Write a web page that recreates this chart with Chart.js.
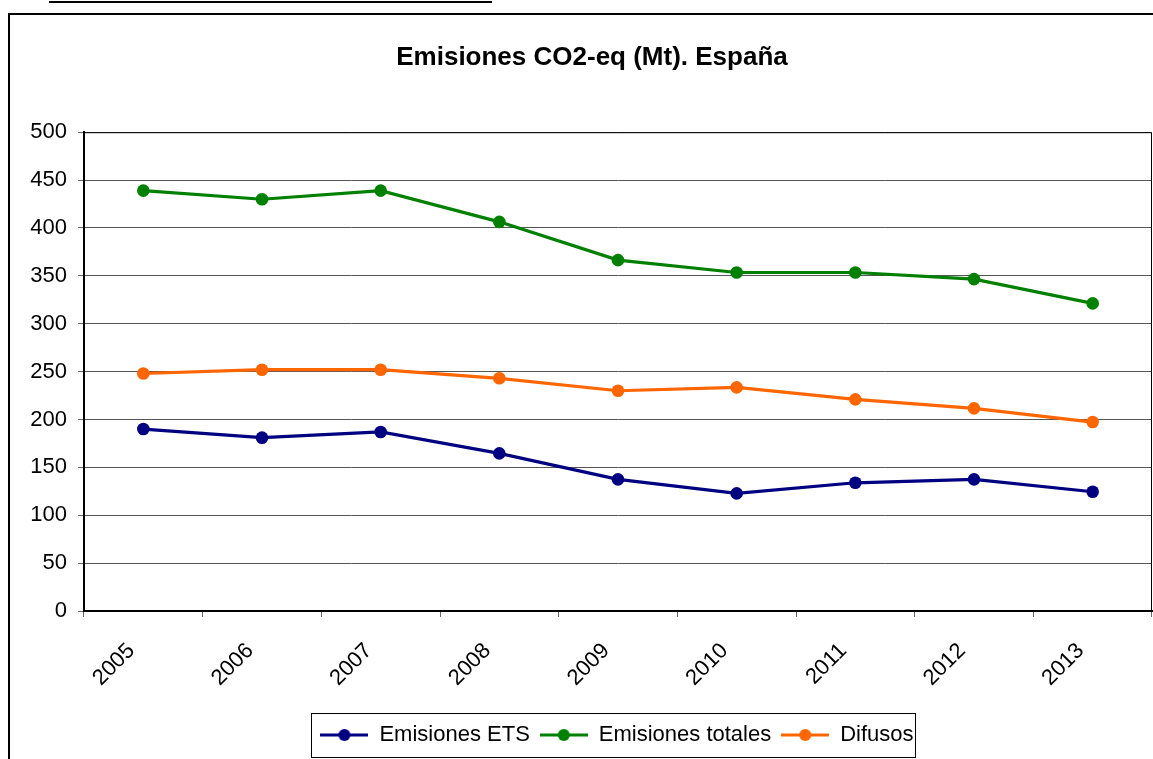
<!DOCTYPE html>
<html>
<head>
<meta charset="utf-8">
<title>Emisiones CO2-eq (Mt). España</title>
<script src="https://cdn.jsdelivr.net/npm/chart.js@4.4.1/dist/chart.umd.min.js"></script>
<style>
  html, body { margin: 0; padding: 0; background: #fff; overflow: hidden; }
  body { width: 1153px; height: 759px; position: relative; }
  #underline { position: absolute; left: 49px; top: 1px; width: 443px; height: 2px; background: #000; }
  #frame { position: absolute; left: 8px; top: 13px; width: 1200px; height: 800px; border: 2px solid #000; }
  #chart { position: absolute; left: 0; top: 0; }
</style>
</head>
<body>
<div id="underline"></div>
<div id="frame"><canvas id="chart" width="1164" height="745"></canvas></div>
<script>
/* --- data --- */
const YEARS = ['2005', '2006', '2007', '2008', '2009', '2010', '2011', '2012', '2013'];
const ETS = [190, 181, 187, 164.6, 137.5, 122.8, 133.9, 137.5, 124.5];
const TOTALES = [439, 430, 439, 406.4, 366.4, 353.5, 353.5, 346.6, 321.2];
const DIFUSOS = [248, 252, 252, 243, 230, 233.5, 221, 211.6, 197.3];
const Y_TICKS = [0, 50, 100, 150, 200, 250, 300, 350, 400, 450, 500];

const COLORS = {
  ets: '#000080',
  totales: '#008000',
  difusos: '#FF6600',
  grid: '#555555',
  tick: '#666666'
};

const FONT = "'Liberation Sans', Arial, sans-serif";

// line + dot marker for the legend, like the Excel one
function legendMarker(color) {
  const c = document.createElement('canvas');
  c.width = 48;
  c.height = 14;
  const g = c.getContext('2d');
  g.strokeStyle = color;
  g.lineWidth = 3;
  g.beginPath();
  g.moveTo(0, 7);
  g.lineTo(48, 7);
  g.stroke();
  g.fillStyle = color;
  g.beginPath();
  g.arc(24, 7, 6, 0, Math.PI * 2);
  g.fill();
  return c;
}

function lineSet(label, data, color) {
  return {
    label,
    data,
    borderColor: color,
    backgroundColor: color,
    pointBackgroundColor: color,
    pointBorderWidth: 0,
    pointRadius: 6.3,
    borderWidth: 3.2,
    tension: 0,
    fill: false
  };
}

// frame around plot area + box around legend
const framePlugin = {
  id: 'frame',
  afterLayout(chart) {
    // title centred on the whole frame, legend centred under the plot area
    chart.titleBlock.left += 11;
    chart.titleBlock.right += 11;
    const lg = chart.legend;
    const pad = lg.options.labels.padding;
    const lw = lg.lineWidths[0];
    const defaultStart = (lg.left + pad + lg.right - lw) / 2;
    const wantedStart = 607 - (lw - pad) / 2;
    const shift = wantedStart - defaultStart;
    lg.left += shift;
    lg.right += shift;
  },
  beforeDatasetsDraw(chart) {
    const { ctx, chartArea: a } = chart;
    ctx.save();
    ctx.strokeStyle = '#000';
    ctx.lineWidth = 1;
    ctx.beginPath();
    ctx.moveTo(a.left, a.top + 0.5);
    ctx.lineTo(a.right - 0.5, a.top + 0.5);
    ctx.lineTo(a.right - 0.5, a.bottom);
    ctx.stroke();
    ctx.restore();
  },
  afterDraw(chart) {
    const boxes = chart.legend.legendHitBoxes;
    if (!boxes || !boxes.length) return;
    const left = Math.min(...boxes.map(b => b.left)) - 9;
    const right = Math.max(...boxes.map(b => b.left + b.width)) + 2;
    const top = boxes[0].top - 11;
    const bottom = boxes[0].top + boxes[0].height + 11;
    const ctx = chart.ctx;
    ctx.save();
    ctx.strokeStyle = '#000';
    ctx.lineWidth = 1;
    ctx.strokeRect(Math.round(left) + 0.5, Math.round(top) + 0.5, Math.round(right - left), Math.round(bottom - top));
    ctx.restore();
  }
};

new Chart(document.getElementById('chart'), {
  type: 'line',
  data: {
    labels: YEARS,
    datasets: [
      lineSet('Emisiones ETS', ETS, COLORS.ets),
      lineSet('Emisiones totales', TOTALES, COLORS.totales),
      lineSet('Difusos', DIFUSOS, COLORS.difusos)
    ]
  },
  options: {
    responsive: false,
    animation: false,
    devicePixelRatio: 1,
    layout: { padding: { left: 0, right: 22, top: 0, bottom: 4 } },
    plugins: {
      title: {
        display: true,
        text: 'Emisiones CO2-eq (Mt). España',
        color: '#000',
        font: { family: FONT, size: 26, weight: 'bold' },
        padding: { top: 27, bottom: 59 }
      },
      legend: {
        position: 'bottom',
        labels: {
          color: '#000',
          font: { family: FONT, size: 22 },
          usePointStyle: true,
          pointStyleWidth: 48,
          padding: 10,
          generateLabels: (chart) =>
            Chart.defaults.plugins.legend.labels.generateLabels(chart).map(item => ({
              ...item,
              pointStyle: legendMarker(chart.data.datasets[item.datasetIndex].borderColor)
            }))
        }
      },
      tooltip: { enabled: false }
    },
    scales: {
      x: {
        offset: true,
        grid: {
          offset: true,
          drawOnChartArea: false,
          drawTicks: true,
          tickLength: 6,
          color: COLORS.tick
        },
        border: { color: '#000', width: 2 },
        ticks: {
          color: '#000',
          font: { family: FONT, size: 22 },
          minRotation: 45,
          maxRotation: 45,
          autoSkip: false,
          padding: 21,
          labelOffset: -12
        },
        afterFit: (scale) => { scale.height = 103; }
      },
      y: {
        min: 0,
        max: 500,
        afterBuildTicks: (scale) => { scale.ticks = Y_TICKS.map(v => ({ value: v })); },
        grid: {
          color: COLORS.grid,
          lineWidth: 1,
          drawTicks: true,
          tickLength: 6,
          tickColor: COLORS.tick
        },
        border: { color: '#000', width: 2 },
        ticks: {
          color: '#000',
          font: { family: FONT, size: 22 },
          padding: 11
        },
        afterFit: (scale) => { scale.width = 74; }
      }
    }
  },
  plugins: [framePlugin]
});
</script>
</body>
</html>
